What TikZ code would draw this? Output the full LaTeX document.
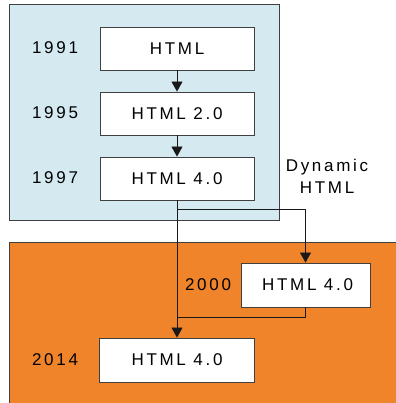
\documentclass[tikz,border=0pt]{standalone}
\usepackage{fontspec}
\setmainfont{Liberation Sans}[LetterSpace=16]
\usetikzlibrary{arrows.meta}
\definecolor{panelblue}{HTML}{D4EAF0}
\definecolor{panelorange}{HTML}{F0842A}
\definecolor{edgegray}{HTML}{404040}
\tikzset{
  every node/.style={font=\fontsize{17}{22}\selectfont, text=black},
  verbox/.style={draw=edgegray, line width=0.9pt, fill=white, minimum width=154, minimum height=43, inner sep=0pt},
  yearlbl/.style={inner sep=0pt},
  conn/.style={draw=black!90, line width=0.8pt},
  arr/.style={conn, -{Triangle[width=11pt,length=10pt]}},
}
\begin{document}
\begin{tikzpicture}[x=1pt,y=-1pt]
\useasboundingbox (0,0) rectangle (395,403);
% panels
\fill[panelblue] (9,4) rectangle (279,220);
\draw[edgegray, line width=0.9pt] (9,4) rectangle (279,220);
\fill[panelorange] (9,242) rectangle (400,410);
\draw[edgegray, line width=0.9pt] (9,410) -- (9,242) -- (400,242);
% boxes
\node[verbox] (b1) at (177,48.5) {HTML};
\node[verbox] (b2) at (177,113.5) {HTML 2.0};
\node[verbox] (b3) at (177,178.5) {HTML 4.0};
\node[verbox, minimum width=129, minimum height=44] (b4) at (305.5,285) {\hspace{4pt}HTML 4.0};
\node[verbox, minimum width=155, minimum height=44] (b5) at (177,360) {HTML 4.0};
% years
\node[yearlbl] (y1) at (55,48) {1991};
\node[yearlbl] (y2) at (55,113) {1995};
\node[yearlbl] (y3) at (55,178) {1997};
\node[yearlbl] (y4) at (208,285) {2000};
\node[yearlbl] (y5) at (55,360) {2014};
\node[align=center, inner sep=0pt] (dh) at (327,176) {Dynamic\\HTML};
% connectors
\coordinate (split) at (177,209);
\coordinate (join) at (177,317);
\draw[arr] (b1.south) -- (b2.north);
\draw[arr] (b2.south) -- (b3.north);
\draw[arr] (b3.south) -- (b5.north);
\draw[arr] (split) -| (b4.north);
\draw[conn] (b4.south) |- (join);
\end{tikzpicture}
\end{document}
